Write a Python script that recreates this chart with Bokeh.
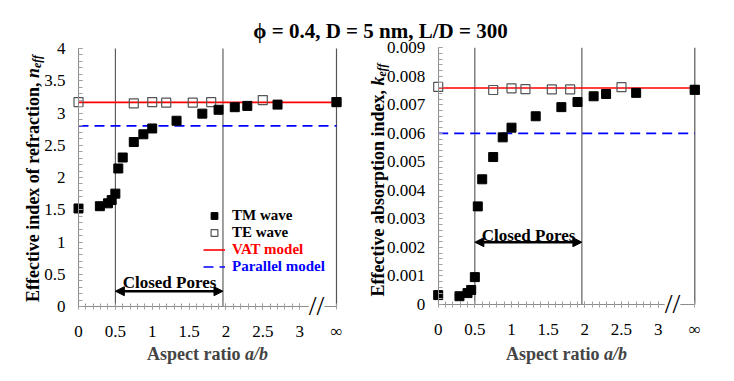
import numpy as np
from bokeh.plotting import figure
from bokeh.models import (Range1d, FixedTicker, LinearAxis, Label, Arrow,
                          NormalHead, Legend, LegendItem)
from bokeh.embed import file_html
from bokeh.resources import INLINE

# ---------------- data ----------------
INF_POS = 3.5  # plotting position of the "infinity" column

aspect_tm = [0, 0.29, 0.40, 0.45, 0.50, 0.54, 0.60, 0.75, 0.88, 1.0, 1.33, 1.68, 1.90, 2.12, 2.29, 2.70, INF_POS]
n_tm = [1.52, 1.555, 1.60, 1.65, 1.75, 2.14, 2.31, 2.55, 2.67, 2.76, 2.88, 2.99, 3.05, 3.09, 3.11, 3.13, 3.17]
k_tm = [0.00033, 0.00029, 0.00040, 0.00051, 0.00096, 0.00344, 0.00439, 0.00517, 0.00586, 0.00620,
        0.00660, 0.00692, 0.00710, 0.00730, 0.00738, 0.00742, 0.00753]

aspect_te = [0, 0.75, 1.0, 1.19, 1.55, 1.80, 2.50, INF_POS]
n_te = [3.17, 3.15, 3.17, 3.16, 3.16, 3.17, 3.20, 3.17]
k_te = [0.00763, 0.00752, 0.00758, 0.00755, 0.00754, 0.00754, 0.00762, 0.00752]

model_x = [0, INF_POS]
vat_n = [3.165, 3.165]
par_n = [2.80, 2.80]
vat_k = [0.00759, 0.00759]
par_k = [0.0060, 0.0060]

closed_pores = [0.5, 1.96]

x_ticks = [0, 0.5, 1, 1.5, 2, 2.5, 3, INF_POS]
x_tick_labels = ["0", "0.5", "1", "1.5", "2", "2.5", "3", "\u221e"]
n_ticks = [0, 0.5, 1, 1.5, 2, 2.5, 3, 3.5, 4]
n_tick_labels = ["0", "0.5", "1", "1.5", "2", "2.5", "3", "3.5", "4"]
k_ticks = [0, 0.001, 0.002, 0.003, 0.004, 0.005, 0.006, 0.007, 0.008, 0.009]
k_tick_labels = ["0", "0.001", "0.002", "0.003", "0.004", "0.005", "0.006", "0.007", "0.008", "0.009"]

TITLE = "\u03d5 = 0.4, D = 5 nm, L/D = 300"
SERIF = "Liberation Serif"

# ---------------- layout (page pixels) ----------------
W, H = 734, 381


class Panel:
    """maps page pixels <-> data for one sub-plot"""

    def __init__(self, x0px, x1px, y0px, y1px, ymax):
        self.x0px, self.sx = x0px, (x1px - x0px) / INF_POS
        self.y0px, self.sy = y0px, (y0px - y1px) / ymax

    def x(self, px):
        return (px - self.x0px) / self.sx

    def y(self, py):
        return (self.y0px - py) / self.sy

    def ranges(self):
        return Range1d(self.x(0), self.x(W)), Range1d(self.y(H), self.y(0))


PL = Panel(78, 336, 306, 48, 4.0)
PR = Panel(437.7, 694.3, 304, 47.3, 0.009)

xr, yr = PL.ranges()
rxr, ryr = PR.ranges()

p = figure(width=W, height=H, x_range=xr, y_range=yr, output_backend="svg",
           toolbar_location=None, x_axis_location=None, y_axis_location=None,
           min_border=0, min_border_left=0, min_border_right=0, min_border_top=0,
           min_border_bottom=0)
p.extra_x_ranges = {"rx": rxr}
p.extra_y_ranges = {"ry": ryr}
p.outline_line_color = None
p.grid.visible = False
p.background_fill_color = "white"
p.border_fill_color = "white"

minor_x = [round(v, 2) for v in np.arange(0.1, 3.01, 0.1)]
n_minor = [round(v, 2) for v in np.arange(0, 4.001, 0.1)]
k_minor = [round(v, 5) for v in np.arange(0, 0.00901, 0.0002)]


def style_axis(ax, tin, tout, standoff):
    ax.axis_line_color = "#8c8c8c"
    ax.major_tick_line_color = "#a0a0a0"
    ax.minor_tick_line_color = "#a0a0a0"
    ax.major_tick_in = tin
    ax.major_tick_out = tout
    ax.minor_tick_in = tin
    ax.minor_tick_out = tout
    ax.major_label_standoff = standoff
    ax.major_label_text_font = SERIF
    ax.major_label_text_font_size = "17px"
    ax.major_label_text_color = "black"


def build(pn, ymax, y_ticks, y_labels, y_minor, yvals_tm, yvals_te, vat, par, ylab, xlab_px,
          cp_px, brk_px, rng):
    kw = {} if rng is None else dict(x_range_name="rx", y_range_name="ry")
    xa = LinearAxis(fixed_location=0, bounds=(0, INF_POS),
                    ticker=FixedTicker(ticks=x_ticks, minor_ticks=minor_x),
                    major_label_overrides=dict(zip(x_ticks, x_tick_labels)), **kw)
    style_axis(xa, 3, 3, 12)
    p.add_layout(xa, "below")
    ya = LinearAxis(fixed_location=0, bounds=(0, ymax),
                    ticker=FixedTicker(ticks=y_ticks, minor_ticks=y_minor),
                    major_label_overrides=dict(zip(y_ticks, y_labels)), **kw)
    style_axis(ya, 4, 0, 13)
    p.add_layout(ya, "left")

    # closed-pore boundaries and right border at infinity
    p.segment(x0=closed_pores, y0=[0, 0], x1=closed_pores, y1=[ymax, ymax],
              line_color="#404040", line_width=1, **kw)
    p.segment(x0=[INF_POS], y0=[0], x1=[INF_POS], y1=[ymax], line_color="#555555",
              line_width=1.2, **kw)

    vat_r = p.line(model_x, vat, line_color="#ff0000", line_width=1.6, **kw)
    par_r = p.line(model_x, par, line_color="#0000ff", line_width=1.6, line_dash="10 6", **kw)
    te_r = p.scatter(aspect_te, yvals_te, marker="square", size=9, fill_color=None,
                     line_color="#555555", line_width=1.2, **kw)
    tm_r = p.scatter(aspect_tm, yvals_tm, marker="square", size=9, fill_color="black",
                     line_color="black", **kw)

    # closed pores annotation
    (tx, ty, ay) = cp_px
    p.add_layout(Arrow(x_start=closed_pores[0], x_end=closed_pores[1], y_start=pn.y(ay),
                       y_end=pn.y(ay), line_width=2.5, line_color="black",
                       start=NormalHead(size=9, fill_color="black", line_color="black"),
                       end=NormalHead(size=9, fill_color="black", line_color="black"), **kw))
    p.add_layout(Label(x=pn.x(tx), y=pn.y(ty), text="Closed Pores", text_align="center",
                       text_baseline="alphabetic", text_font=SERIF, text_font_style="bold",
                       text_font_size="17px", text_color="black", **kw))

    # axis break
    p.add_layout(Label(x=pn.x(brk_px[0]), y=pn.y(brk_px[1]), text="//", text_align="center",
                       text_baseline="middle", text_font=SERIF, text_font_size="28px",
                       text_color="black", background_fill_color="white", padding=(0, 7), **kw))

    # rotated y axis label
    (bx, jy, sx, sy, main, sym) = ylab
    for txt, x, y, al, fs, st in [(main, bx, jy, "right", "18px", "bold"),
                                  (sym, bx, jy, "left", "18px", "bold italic"),
                                  ("eff", sx, sy, "left", "12px", "bold italic")]:
        p.add_layout(Label(x=pn.x(x), y=pn.y(y), text=txt, angle=np.pi / 2, text_align=al,
                           text_baseline="alphabetic", text_font=SERIF, text_font_style=st,
                           text_font_size=fs, text_color="black", **kw))
    # x axis label
    (jx, ly) = xlab_px
    p.add_layout(Label(x=pn.x(jx), y=pn.y(ly), text="Aspect ratio ", text_align="right",
                       text_baseline="middle", text_font=SERIF, text_font_style="bold",
                       text_font_size="18px", **kw))
    p.add_layout(Label(x=pn.x(jx), y=pn.y(ly), text="a/b", text_align="left",
                       text_baseline="middle", text_font=SERIF, text_font_style="bold italic",
                       text_font_size="18px", **kw))
    return tm_r, te_r, vat_r, par_r


tm1, te1, vat1, par1 = build(PL, 4.0, n_ticks, n_tick_labels, n_minor, n_tm, n_te, vat_n, par_n,
                             (32, 77.5, 36, 67.5, "Effective index of refraction, ", "n"),
                             (244.5, 353), (169, 282, 290.7), (316, 305), None)
build(PR, 0.009, k_ticks, k_tick_labels, k_minor, k_tm, k_te, vat_k, par_k,
      (377, 85, 381, 76, "Effective absorption index, ", "k"),
      (603.5, 353), (528, 235, 241.7), (672, 303), "r")

# title
p.add_layout(Label(x=PL.x(380), y=PL.y(30), text=TITLE, text_align="center",
                   text_baseline="alphabetic", text_font=SERIF, text_font_style="bold",
                   text_font_size="21px", text_color="black"))


def legend(items, bottom_px, color):
    lg = Legend(items=items, location=(203, H - bottom_px), padding=0, margin=0, spacing=0,
                border_line_color=None, background_fill_alpha=0,
                glyph_width=22, glyph_height=17, label_height=17, label_standoff=7,
                label_text_font=SERIF, label_text_font_style="bold",
                label_text_font_size="15px", label_text_color=color)
    p.add_layout(lg)


legend([LegendItem(label="TM wave", renderers=[tm1]), LegendItem(label="TE wave", renderers=[te1])],
       240.5, "black")
legend([LegendItem(label="VAT model", renderers=[vat1])], 257.8, "#ff0000")
legend([LegendItem(label="Parallel model", renderers=[par1])], 275.2, "#0000ff")

open("out.html", "w").write(file_html(p, INLINE))
